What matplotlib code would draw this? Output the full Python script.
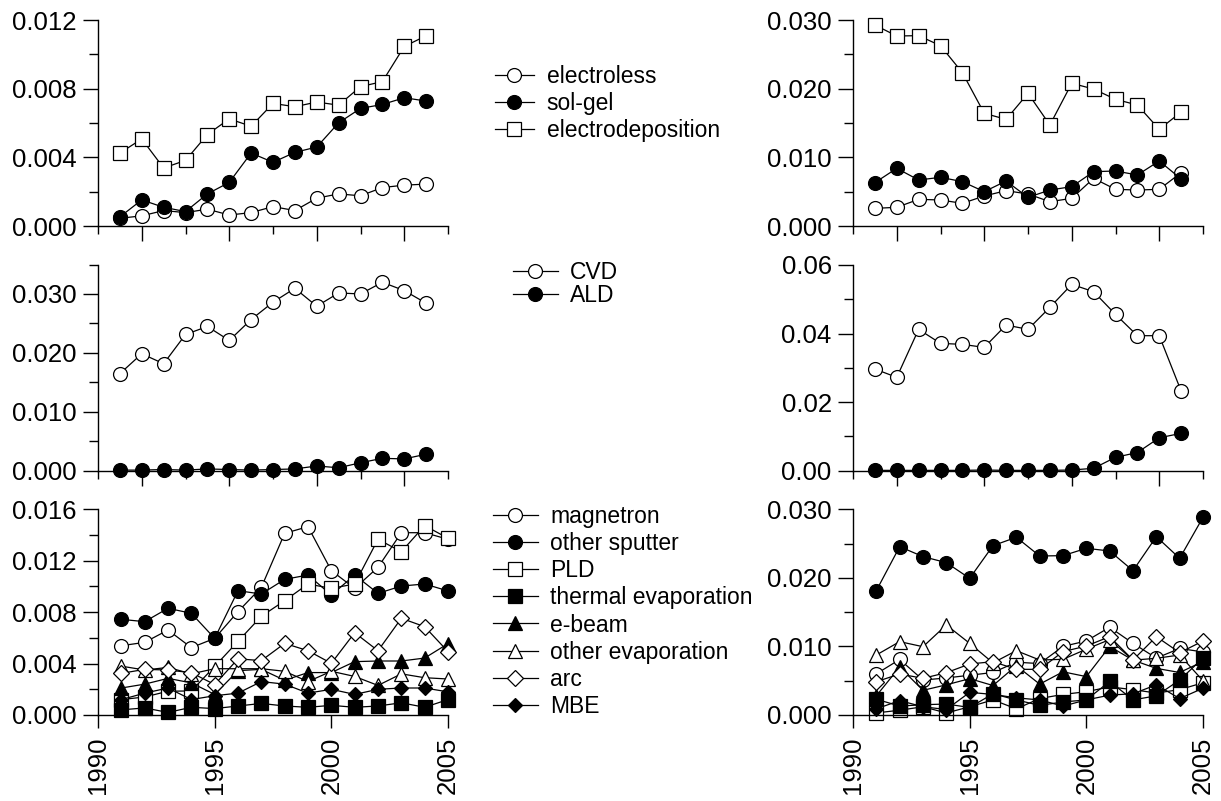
import matplotlib
matplotlib.use("Agg")
import matplotlib.pyplot as plt
from matplotlib.ticker import FixedLocator, FormatStrFormatter

plt.rcParams['font.family'] = ['Liberation Sans', 'DejaVu Sans']

years = list(range(1991, 2006))

# --- row 1 ---
electroless_L = [0.00045, 0.00059, 0.0009, 0.00078, 0.00098, 0.00064, 0.00078, 0.00113, 0.0009, 0.00162, 0.00187, 0.00176, 0.00224, 0.00238, 0.00244]
solgel_L = [0.00053, 0.00152, 0.00109, 0.00084, 0.00187, 0.00254, 0.00425, 0.00371, 0.00429, 0.0046, 0.00601, 0.00685, 0.00708, 0.00747, 0.00728]
electrodep_L = [0.00425, 0.00507, 0.00338, 0.00382, 0.00533, 0.00624, 0.00581, 0.00714, 0.00695, 0.00722, 0.00704, 0.00812, 0.00841, 0.01046, 0.01108]
electroless_R = [0.00257, 0.00272, 0.00388, 0.00379, 0.0033, 0.00437, 0.00515, 0.00466, 0.00354, 0.00403, 0.00694, 0.00534, 0.00524, 0.00534, 0.00777]
solgel_R = [0.00631, 0.0084, 0.0067, 0.00709, 0.00646, 0.005, 0.00655, 0.00417, 0.00524, 0.00573, 0.00791, 0.00801, 0.00743, 0.00947, 0.00684]
electrodep_R = [0.02927, 0.02767, 0.02772, 0.02626, 0.02233, 0.01641, 0.01553, 0.01932, 0.01471, 0.02078, 0.01995, 0.01845, 0.01762, 0.01408, 0.0166]

# --- row 2 ---
cvd_L = [0.01647, 0.01985, 0.01816, 0.02312, 0.02448, 0.02211, 0.02566, 0.0286, 0.03096, 0.02792, 0.03017, 0.03, 0.03198, 0.03057, 0.02843]
ald_L = [0.0001, 0.0001, 0.0002, 0.0001, 0.0003, 0.0002, 0.0001, 0.0002, 0.0003, 0.0008, 0.0005, 0.00135, 0.0021, 0.002, 0.0028]
cvd_R = [0.02966, 0.02723, 0.04123, 0.03714, 0.03685, 0.03597, 0.04249, 0.04123, 0.04764, 0.05435, 0.05221, 0.0456, 0.03938, 0.03938, 0.02324]
ald_R = [0.0001, 0.0001, 0.0001, 0.0001, 0.0001, 0.0002, 0.0001, 0.0001, 0.0001, 0.0002, 0.0007, 0.0039, 0.0053, 0.0096, 0.0109]

# --- row 3 ---
magnetron_L = [0.00539, 0.00565, 0.00661, 0.00524, 0.00596, 0.00804, 0.00993, 0.01413, 0.01465, 0.01123, 0.00985, 0.01149, 0.01418, 0.01418, 0.01367]
sputter_L = [0.00744, 0.00726, 0.0083, 0.00791, 0.00596, 0.00967, 0.00941, 0.01055, 0.01089, 0.00933, 0.01089, 0.00946, 0.01003, 0.01019, 0.00965]
pld_L = [0.0012, 0.0014, 0.00185, 0.00187, 0.00378, 0.00573, 0.00768, 0.00889, 0.01019, 0.00985, 0.01019, 0.01367, 0.0127, 0.01473, 0.01375]
thermal_L = [0.0004, 0.00055, 0.0002, 0.0006, 0.0005, 0.0007, 0.0009, 0.0007, 0.0006, 0.00075, 0.0006, 0.0007, 0.00095, 0.0006, 0.0012]
ebeam_L = [0.0021, 0.0024, 0.00285, 0.0025, 0.0016, 0.00345, 0.00355, 0.0027, 0.0033, 0.0033, 0.00415, 0.0042, 0.0042, 0.00443, 0.00555]
otherevap_L = [0.0038, 0.0035, 0.0037, 0.0032, 0.0036, 0.0036, 0.0036, 0.0034, 0.0026, 0.0034, 0.003, 0.0023, 0.0032, 0.0029, 0.0028]
arc_L = [0.00324, 0.00355, 0.0035, 0.00329, 0.00237, 0.00437, 0.00423, 0.00557, 0.005, 0.00402, 0.0064, 0.005, 0.00752, 0.00687, 0.00493]
mbe_L = [0.0012, 0.0017, 0.0021, 0.0012, 0.0015, 0.0017, 0.0026, 0.0024, 0.0017, 0.002, 0.0016, 0.002, 0.0021, 0.0021, 0.0018]

magnetron_R = [0.006, 0.0081, 0.0051, 0.0054, 0.0058, 0.0062, 0.0077, 0.0075, 0.01, 0.0108, 0.0128, 0.01045, 0.0083, 0.0097, 0.0092]
sputter_R = [0.01814, 0.02455, 0.0231, 0.02222, 0.01993, 0.0247, 0.02592, 0.02319, 0.02324, 0.02431, 0.02392, 0.02105, 0.02601, 0.02285, 0.02883]
pld_R = [0.0003, 0.0007, 0.0012, 0.0003, 0.0012, 0.0022, 0.0009, 0.0024, 0.0030, 0.0034, 0.0041, 0.0037, 0.0032, 0.0037, 0.0047]
thermal_R = [0.0023, 0.0013, 0.0015, 0.0016, 0.0011, 0.0031, 0.0022, 0.0014, 0.0019, 0.0022, 0.0049, 0.0022, 0.0028, 0.0051, 0.0083]
ebeam_R = [0.0028, 0.0070, 0.0036, 0.0044, 0.0053, 0.0043, 0.0072, 0.0045, 0.0063, 0.0056, 0.0100, 0.0080, 0.0068, 0.0062, 0.0078]
otherevap_R = [0.00875, 0.0107, 0.00996, 0.01313, 0.01045, 0.0076, 0.00938, 0.00802, 0.00812, 0.0096, 0.011, 0.008, 0.00827, 0.00875, 0.005]
arc_R = [0.00486, 0.00598, 0.00535, 0.00617, 0.00744, 0.00778, 0.00666, 0.00666, 0.00924, 0.01006, 0.01143, 0.00802, 0.01143, 0.00909, 0.01079]
mbe_R = [0.0009, 0.0021, 0.0012, 0.0008, 0.0033, 0.0030, 0.0025, 0.0022, 0.0013, 0.0022, 0.0029, 0.0031, 0.0044, 0.0024, 0.0039]

labels_row1 = ["electroless", "sol-gel", "electrodeposition"]
labels_row2 = ["CVD", "ALD"]
labels_row3 = ["magnetron", "other sputter", "PLD", "thermal evaporation",
               "e-beam", "other evaporation", "arc", "MBE"]

W, H = 1221, 801
fig = plt.figure(figsize=(W / 100, H / 100), dpi=100)

def ax_at(x0, y_top, x1, y_bot):
    return fig.add_axes([x0 / W, 1 - y_bot / H, (x1 - x0) / W, (y_bot - y_top) / H])

LW = 0.9
FS = 18.5

styles = {
    "o_open": dict(marker="o", mfc="white", mec="black", ms=10),
    "o_fill": dict(marker="o", mfc="black", mec="black", ms=10),
    "s_open": dict(marker="s", mfc="white", mec="black", ms=9.5),
    "s_fill": dict(marker="s", mfc="black", mec="black", ms=9.5),
    "^_fill": dict(marker="^", mfc="black", mec="black", ms=10.5),
    "^_open": dict(marker="^", mfc="white", mec="black", ms=10.5),
    "D_open": dict(marker="D", mfc="white", mec="black", ms=8),
    "D_fill": dict(marker="D", mfc="black", mec="black", ms=7),
}

def plot_series(ax, y, key):
    return ax.plot(years, y, color="black", lw=LW, mew=0.9, clip_on=False, **styles[key])[0]

def style_axes(ax, ymax, ymaj, ymin, fmt, bottom_row):
    ax.set_ylim(0, ymax)
    for s in ("top", "right"):
        ax.spines[s].set_visible(False)
    for s in ("left", "bottom"):
        ax.spines[s].set_linewidth(1.0)
    yt = [i * ymaj for i in range(int(round(ymax / ymaj)) + 1) if i * ymaj <= ymax + 1e-12]
    ax.yaxis.set_major_locator(FixedLocator(yt))
    ymn = [i * ymin for i in range(int(round(ymax / ymin)) + 1)]
    ax.yaxis.set_minor_locator(FixedLocator([v for v in ymn if all(abs(v - t) > 1e-9 for t in yt)]))
    ax.yaxis.set_major_formatter(FormatStrFormatter(fmt))
    ax.tick_params(axis="y", which="major", direction="out", length=10.8, width=1.0, labelsize=FS, pad=4.5)
    ax.tick_params(axis="y", which="minor", direction="out", length=6.5, width=1.0)
    if bottom_row:
        ax.set_xlim(1990, 2005)
        ax.xaxis.set_major_locator(FixedLocator([1990, 1995, 2000, 2005]))
        ax.xaxis.set_minor_locator(FixedLocator([]))
        ax.tick_params(axis="x", which="major", direction="out", length=9.5, width=1.0,
                       labelsize=FS, labelrotation=90, pad=6)
    else:
        ax.set_xlim(1990, 2006)
        ax.xaxis.set_major_locator(FixedLocator([1992, 1996, 2000, 2004]))
        ax.xaxis.set_minor_locator(FixedLocator([1990, 1994, 1998, 2002, 2006]))
        ax.tick_params(axis="x", which="major", direction="out", length=10.8, width=1.0, labelbottom=False)
        ax.tick_params(axis="x", which="minor", direction="out", length=6, width=1.0)

XL0, XL1 = 98, 448
XR0, XR1 = 853, 1203

# Row 1
a11 = ax_at(XL0, 20, XL1, 226)
a12 = ax_at(XR0, 20, XR1, 226)
for ax, (e1, e2, e3) in ((a11, (electroless_L, solgel_L, electrodep_L)),
                         (a12, (electroless_R, solgel_R, electrodep_R))):
    h1 = [plot_series(ax, e1, "o_open"), plot_series(ax, e2, "o_fill"), plot_series(ax, e3, "s_open")]
style_axes(a11, 0.012, 0.004, 0.002, "%.3f", False)
style_axes(a12, 0.030, 0.010, 0.005, "%.3f", False)

# Row 2
a21 = ax_at(XL0, 264.5, XL1, 470.7)
a22 = ax_at(XR0, 265, XR1, 470.7)
for ax, (c, a) in ((a21, (cvd_L, ald_L)), (a22, (cvd_R, ald_R))):
    h2 = [plot_series(ax, c, "o_open"), plot_series(ax, a, "o_fill")]
style_axes(a21, 0.035, 0.010, 0.005, "%.3f", False)
style_axes(a22, 0.06, 0.02, 0.01, "%.2f", False)

# Row 3
a31 = ax_at(XL0, 509.3, XL1, 715)
a32 = ax_at(XR0, 509.3, XR1, 715)
keys3 = ["o_open", "o_fill", "s_open", "s_fill", "^_fill", "^_open", "D_open", "D_fill"]
for ax, series in ((a31, (magnetron_L, sputter_L, pld_L, thermal_L, ebeam_L, otherevap_L, arc_L, mbe_L)),
                   (a32, (magnetron_R, sputter_R, pld_R, thermal_R, ebeam_R, otherevap_R, arc_R, mbe_R))):
    h3 = [plot_series(ax, s, k) for s, k in zip(series, keys3)]
style_axes(a31, 0.016, 0.004, 0.002, "%.3f", True)
style_axes(a32, 0.030, 0.010, 0.005, "%.3f", True)

LFS = 16.5
def add_legend(handles, labels, x_px, y_px, spacing, hl=1.8):
    fig.legend(handles, labels, loc="upper left", bbox_to_anchor=(x_px / W, 1 - y_px / H),
               frameon=False, borderpad=0, borderaxespad=0, fontsize=LFS,
               handlelength=hl, handletextpad=0.55, labelspacing=spacing)

add_legend(h1, labels_row1, 495, 65, 0.18, hl=1.7)
add_legend(h2, labels_row2, 513, 261, 0.0, hl=1.95)
add_legend(h3, labels_row3, 493, 505, 0.18, hl=1.95)

fig.savefig("out.png", dpi=100)
